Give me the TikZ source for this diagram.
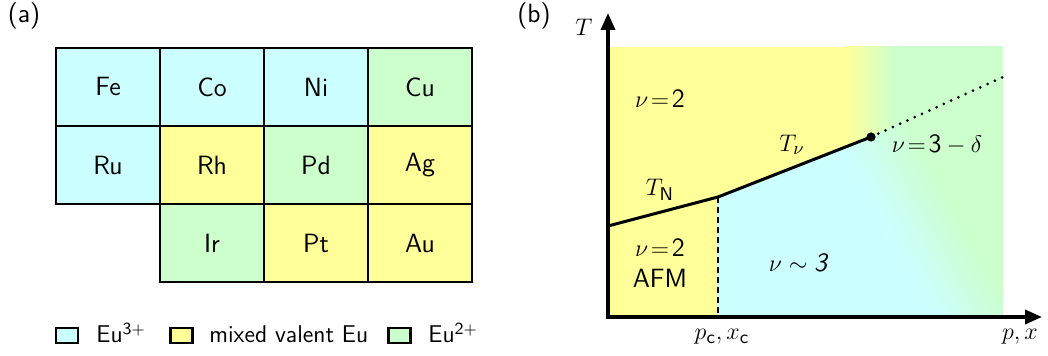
\documentclass[tikz,border=0pt]{standalone}
\usepackage{amsmath}
\usepackage{fontspec}
\usepackage{tikz}
\usetikzlibrary{arrows.meta}
\definecolor{eucyan}{RGB}{204,255,255}
\definecolor{euyellow}{RGB}{255,255,153}
\definecolor{eugreen}{RGB}{204,255,204}

\begin{document}
\begin{tikzpicture}[x=0.5pt, y=0.5pt, font=\sffamily\fontsize{13.2}{16}\selectfont,
    cell/.style={draw, line width=1.3pt, minimum width=52pt, minimum height=39pt, inner sep=0pt},
    keybox/.style={draw, line width=1.2pt, minimum width=11pt, minimum height=7.5pt, inner sep=0pt},
    keytext/.style={anchor=base west, inner sep=0pt, font=\sffamily\fontsize{12.1}{14}\selectfont},
    axis/.style={line width=1.8pt, line join=miter,
        {Triangle[length=8.5pt,width=7pt]}-{Triangle[length=8.5pt,width=7pt]}},
    phase/.style={line width=1.5pt}]

    \useasboundingbox (0,0) rectangle (1048,356);

    % ==========================================
    % (a) PERIODIC TABLE BLOCK
    % ==========================================

    \node (lbla) at (24,340) {(a)};

    % cell centres: columns step 104, rows step 78
    \foreach \name/\col/\row/\clr in {Fe/0/0/eucyan, Co/1/0/eucyan, Ni/2/0/eucyan, Cu/3/0/eugreen,
            Ru/0/1/eucyan, Rh/1/1/euyellow, Pd/2/1/eugreen, Ag/3/1/euyellow,
            Ir/1/2/eugreen, Pt/2/2/euyellow, Au/3/2/euyellow}
        \node[cell, fill=\clr] (\name) at (108+\col*104, 269-\row*78) {\name};

    % Legend
    \node[keybox, fill=eucyan]   (keytri)   at (67,20.5) {};
    \node[keybox, fill=euyellow] (keymixed) at (181.5,20.5) {};
    \node[keybox, fill=eugreen]  (keydi)    at (399.5,20.5) {};
    \node[keytext] (keytritext)   at (96,13)  {Eu$^{\mathsf{3}+}$};
    \node[keytext] (keymixedtext) at (209,13) {mixed valent Eu};
    \node[keytext] (keyditext)    at (428,13) {Eu$^{\mathsf{2}+}$};

    % ==========================================
    % (b) PHASE DIAGRAM
    % ==========================================

    \node (lblb) at (534,340) {(b)};

    \def\xr{1003} % right edge of coloured area
    \def\yt{309}  % top edge of coloured area

    \coordinate (O)    at (608,39);
    \coordinate (Ttip) at (608,343);
    \coordinate (Ptip) at (1042,39);
    \coordinate (L0)   at (608,130);
    \coordinate (Lc)   at (718,159);
    \coordinate (Dot)  at (871,219);
    \coordinate (Lend) at (\xr,279);
    \coordinate (Xc)   at (718,39);

    % Background colours
    \begin{scope}
        \clip (O) rectangle (\xr,\yt);
        \fill[euyellow] (O) rectangle (\xr,\yt);
        % yellow to green, left to right
        \foreach \i in {0,...,19} {
            \pgfmathtruncatemacro\mix{5*\i+2}
            \fill[eugreen!\mix!euyellow] (845+2.5*\i,30) rectangle (848+2.5*\i,320);
        }
        \fill[eugreen] (895,30) rectangle (1010,320);

        % below the transition line: cyan fading to green along a diagonal
        \clip (Xc) -- (Lc) -- (Dot) -- (Lend) -- (\xr,39) -- cycle;
        \fill[eucyan] (Xc) rectangle (\xr,\yt);
        \begin{scope}[shift={(932,118)}, rotate=28.4]
            \foreach \i in {0,...,19} {
                \pgfmathtruncatemacro\mix{5*\i+2}
                \fill[eugreen!\mix!eucyan] (-35+3.5*\i,-300) rectangle (-31+3.5*\i,300);
            }
            \fill[eugreen] (35,-300) rectangle (400,300);
        \end{scope}
    \end{scope}

    % Axes
    \draw[axis] (Ttip) -- (O) -- (Ptip);

    % Transition lines
    \draw[phase] (L0) -- (Lc) -- (Dot);
    \draw[line width=1.2pt, dash pattern=on 3pt off 2pt] (Lc) -- (Xc);
    \draw[phase, line cap=round, dash pattern=on 0pt off 4pt] (Dot) -- (Lend);
    \node[circle, fill, inner sep=0pt, minimum size=4.6pt] (dotnode) at (Dot) {};

    % Labels
    \node (Tlabel)  at (584,329)  {$T$};
    \node (nuhigh)  at (660,257)  {$\nu\mskip2mu{=}\mskip2mu\mathsf{2}$};
    \node (Tnu)     at (792,211)  {$T_\nu$};
    \node (TN)      at (660,166)  {$T_{\mathsf{N}}$};
    \node (nudelta) at (937,211)  {$\nu\mskip2mu{=}\mskip2mu\mathsf{3}-\delta$};
    \node (nulow)   at (660,108)  {$\nu\mskip2mu{=}\mskip2mu\mathsf{2}$};
    \node (afm)     at (660,78)   {AFM};
    \node (nuthree) at (798,93)   {$\nu\sim\text{\itshape 3}$};
    \node (pcxc)    at (722,19)   {$p_{\mathsf{c}}, x_{\mathsf{c}}$};
    \node (px)      at (1020,19)  {$p, x$};

\end{tikzpicture}
\end{document}
